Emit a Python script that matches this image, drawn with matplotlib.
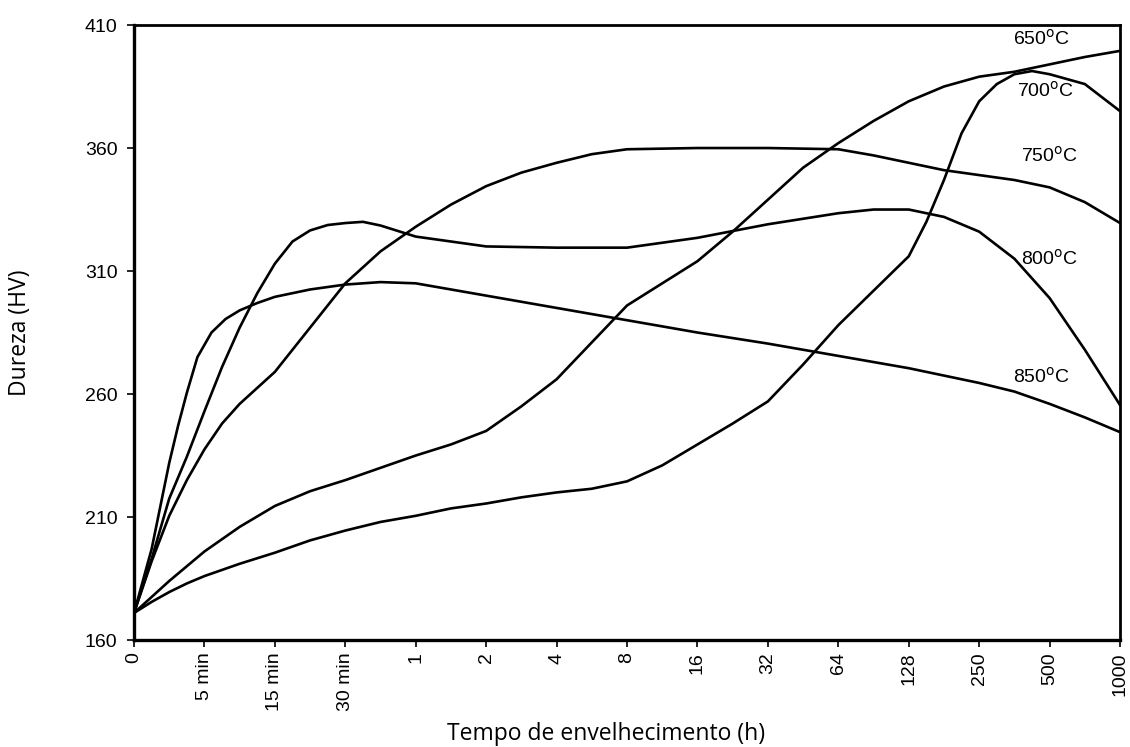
import matplotlib
matplotlib.use('Agg')
import matplotlib.pyplot as plt

# x axis is categorical: each tick is one step
tick_labels = ['0', '5 min', '15 min', '30 min', '1', '2', '4', '8', '16',
               '32', '64', '128', '250', '500', '1000']

# curves (x in tick steps, y in HV)
x_650 = [0, 0.25, 0.5, 0.75, 1, 1.5, 2, 2.5, 3, 3.5, 4, 4.5, 5, 5.5, 6, 6.5, 7,
         7.5, 8, 8.5, 9, 9.5, 10, 10.5, 11, 11.5, 12, 12.5, 13, 13.5, 14]
y_650 = [171, 177.5, 184, 190, 196, 206, 214.5, 220.5, 225, 230, 235, 239.5,
         245, 255, 266, 281, 296, 305, 314, 326, 339, 352, 362, 371, 379, 385,
         389, 391, 394, 397, 399.5]

x_700 = [0, 0.25, 0.5, 0.75, 1, 1.5, 2, 2.5, 3, 3.5, 4, 4.5, 5, 5.5, 6, 6.5, 7,
         7.5, 8, 8.5, 9, 9.5, 10, 10.5, 11, 11.25, 11.5, 11.75, 12, 12.25, 12.5,
         12.75, 13, 13.5, 14]
y_700 = [171, 175.5, 179.5, 183, 186, 191, 195.5, 200.5, 204.5, 208, 210.5,
         213.5, 215.5, 218, 220, 221.5, 224.5, 231, 239.5, 248, 257, 272, 288,
         302, 316, 330, 347, 366, 379, 386, 390, 391.3, 390, 386, 375]

x_750 = [0, 0.25, 0.5, 0.75, 1, 1.25, 1.5, 1.75, 2, 2.5, 3, 3.5, 4, 4.5, 5, 5.5,
         6, 6.5, 7, 8, 9, 10, 10.5, 11, 11.5, 12, 12.5, 13, 13.5, 14]
y_750 = [171, 192, 210.5, 225, 237.5, 248, 256, 262.5, 269, 287, 305, 318, 328,
         337, 344.5, 350, 354, 357.5, 359.5, 360, 360, 359.5, 357, 354, 351, 349,
         347, 344, 338, 329.5]

x_800 = [0, 0.25, 0.5, 0.75, 1, 1.25, 1.5, 1.75, 2, 2.25, 2.5, 2.75, 3, 3.25,
         3.5, 4, 5, 6, 7, 8, 9, 10, 10.5, 11, 11.5, 12, 12.5, 13, 13.5, 14]
y_800 = [171, 193, 217.5, 234.5, 253, 271, 287, 301, 313, 322, 326.5, 328.7,
         329.5, 330, 328.5, 324, 320, 319.5, 319.5, 323.5, 329, 333.5, 335, 335,
         332, 326, 315, 299, 278, 255.5]

x_850 = [0, 0.25, 0.5, 0.625, 0.75, 0.9, 1.1, 1.3, 1.5, 1.75, 2, 2.5, 3, 3.5,
         4, 5, 6, 7, 8, 9, 10, 11, 12, 12.5, 13, 13.5, 14]
y_850 = [171, 197, 232, 247, 260.5, 275, 285, 290.5, 294, 297, 299.5, 302.5,
         304.5, 305.5, 305, 300, 295, 290, 285, 280.5, 275.5, 270.5, 264.5, 261,
         256, 250.5, 244.5]

curves = [(x_650, y_650), (x_700, y_700), (x_750, y_750), (x_800, y_800), (x_850, y_850)]

labels = ['650', '700', '750', '800', '850']
label_x = [12.88, 12.94, 13.0, 13.0, 12.89]
label_y = [404.5, 383.2, 356.7, 315, 267]

tick_font = 'Liberation Sans'
label_font = 'Open Sans'

fig = plt.figure(figsize=(11.3, 7.47), dpi=100)
ax = fig.add_axes([0.1186, 0.1432, 0.8726, 0.8233])

for xs, ys in curves:
    ax.plot(xs, ys, color='black', linewidth=1.9, solid_joinstyle='round',
            solid_capstyle='round')

for lab, lx, ly in zip(labels, label_x, label_y):
    ax.text(lx, ly, lab + r'$^{\mathrm{o}}$C', ha='center', va='center',
            fontsize=14, family=tick_font)

ax.set_xlim(0, 14)
ax.set_ylim(160, 410)
ax.set_xticks(range(len(tick_labels)))
ax.set_xticklabels(tick_labels, rotation=90, family=tick_font, fontsize=14)
ax.set_yticks([160, 210, 260, 310, 360, 410])
ax.set_yticklabels(['160', '210', '260', '310', '360', '410'], family=tick_font, fontsize=14)
ax.tick_params(axis='y', direction='out', length=5, width=1.2, pad=7)
ax.tick_params(axis='x', direction='out', length=5, width=1.2, pad=4)

for side in ['left', 'bottom']:
    ax.spines[side].set_linewidth(2.4)
for side in ['top', 'right']:
    ax.spines[side].set_linewidth(2.0)

ax.set_ylabel('Dureza (HV)', family=label_font, fontsize=16.5)
ax.set_xlabel('Tempo de envelhecimento (h)', family=label_font, fontsize=16.5)
ax.yaxis.set_label_coords(-0.1035, 0.5)
ax.xaxis.set_label_coords(0.479, -0.133)

fig.savefig('out.png', dpi=100)
